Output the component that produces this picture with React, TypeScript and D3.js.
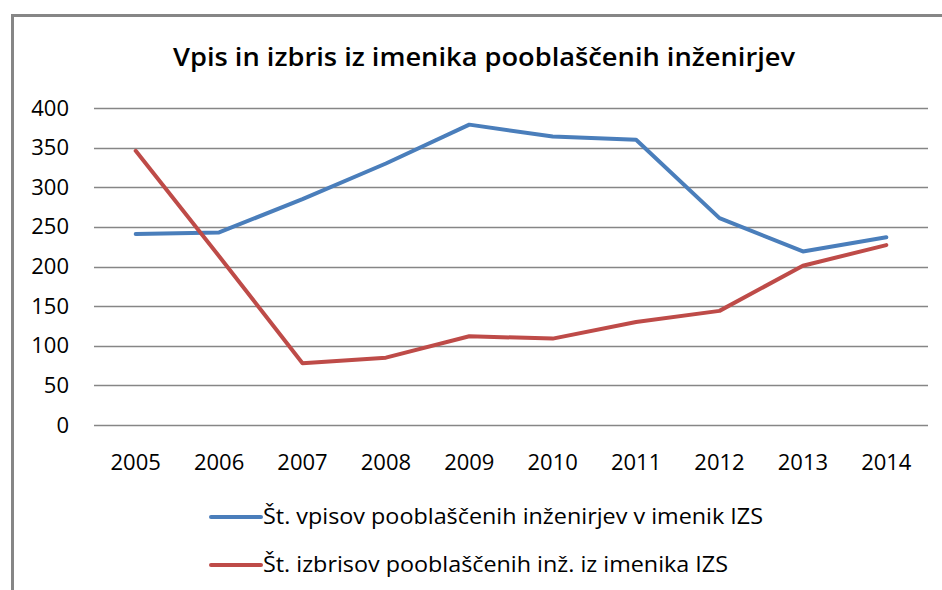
import { useEffect, useRef } from 'react';
import * as d3 from 'd3';

const years = ['2005', '2006', '2007', '2008', '2009', '2010', '2011', '2012', '2013', '2014'];
const vpisi = [241, 243, 285, 330, 379, 364, 360, 261, 219, 237];
const izbrisi = [346, 213, 78, 85, 112, 109, 130, 144, 201, 227];
const yTicks = [0, 50, 100, 150, 200, 250, 300, 350, 400];
const seriesNames = [
  'Št. vpisov pooblaščenih inženirjev v imenik IZS',
  'Št. izbrisov pooblaščenih inž. iz imenika IZS',
];
const seriesColors = ['#4A7EBB', '#BE4B48'];

const width = 942,
  height = 590;

function App() {
  const svgRef = useRef<SVGSVGElement>(null);

  useEffect(() => {
    const svg = d3.select(svgRef.current);
    svg.selectAll('*').remove();

    const font = '"Open Sans", "Liberation Sans", sans-serif';

    const x = d3.scalePoint().domain(years).range([94, 928]).padding(0.5);
    const y = d3.scaleLinear().domain([0, 400]).range([425, 108]);

    // chart frame
    svg
      .append('rect')
      .attr('x', 12.5)
      .attr('y', 15.5)
      .attr('width', 1000)
      .attr('height', 1000)
      .attr('fill', 'white')
      .attr('stroke', '#868686')
      .attr('stroke-width', 3);

    svg
      .append('text')
      .text('Vpis in izbris iz imenika pooblaščenih inženirjev')
      .attr('x', 484)
      .attr('y', 66)
      .attr('text-anchor', 'middle')
      .attr('textLength', 622)
      .attr('lengthAdjust', 'spacingAndGlyphs')
      .style('font-family', font)
      .style('font-weight', 600)
      .style('font-size', '26px');

    // gridlines
    svg
      .append('g')
      .selectAll('line')
      .data(yTicks)
      .join('line')
      .attr('x1', 94)
      .attr('x2', 928)
      .attr('y1', (d) => Math.round(y(d)) + 0.5)
      .attr('y2', (d) => Math.round(y(d)) + 0.5)
      .attr('stroke', '#868686')
      .attr('stroke-width', 1.5);

    svg
      .append('g')
      .selectAll('text')
      .data(yTicks)
      .join('text')
      .text((d) => d)
      .attr('x', 69)
      .attr('y', (d) => y(d) + 7.5)
      .attr('text-anchor', 'end')
      .style('font-family', font)
      .style('font-size', '22px');

    svg
      .append('g')
      .selectAll('text')
      .data(years)
      .join('text')
      .text((d) => d)
      .attr('x', (d) => x(d)!)
      .attr('y', 470)
      .attr('text-anchor', 'middle')
      .style('font-family', font)
      .style('font-size', '22px');

    const line = d3
      .line<number>()
      .x((d, i) => x(years[i])!)
      .y((d) => y(d));

    [vpisi, izbrisi].forEach((s, i) => {
      svg
        .append('path')
        .attr('d', line(s))
        .attr('fill', 'none')
        .attr('stroke', seriesColors[i])
        .attr('stroke-width', 4)
        .attr('stroke-linejoin', 'round')
        .attr('stroke-linecap', 'round');
    });

    // legend
    const legendY = [517, 565];
    const legendLen = [500, 465];
    seriesNames.forEach((name, i) => {
      svg
        .append('line')
        .attr('x1', 211)
        .attr('x2', 261)
        .attr('y1', legendY[i])
        .attr('y2', legendY[i])
        .attr('stroke', seriesColors[i])
        .attr('stroke-width', 4)
        .attr('stroke-linecap', 'round');
      svg
        .append('text')
        .text(name)
        .attr('x', 263)
        .attr('y', legendY[i] + 6.5)
        .attr('textLength', legendLen[i])
        .attr('lengthAdjust', 'spacingAndGlyphs')
        .style('font-family', font)
        .style('font-size', '22px');
    });
  }, []);

  return (
    <svg
      ref={svgRef}
      width={width}
      height={height}
      viewBox={`0 0 ${width} ${height}`}
      style={{ position: 'absolute', left: 0, top: 0, background: 'white' }}
    ></svg>
  );
}

export default App;
